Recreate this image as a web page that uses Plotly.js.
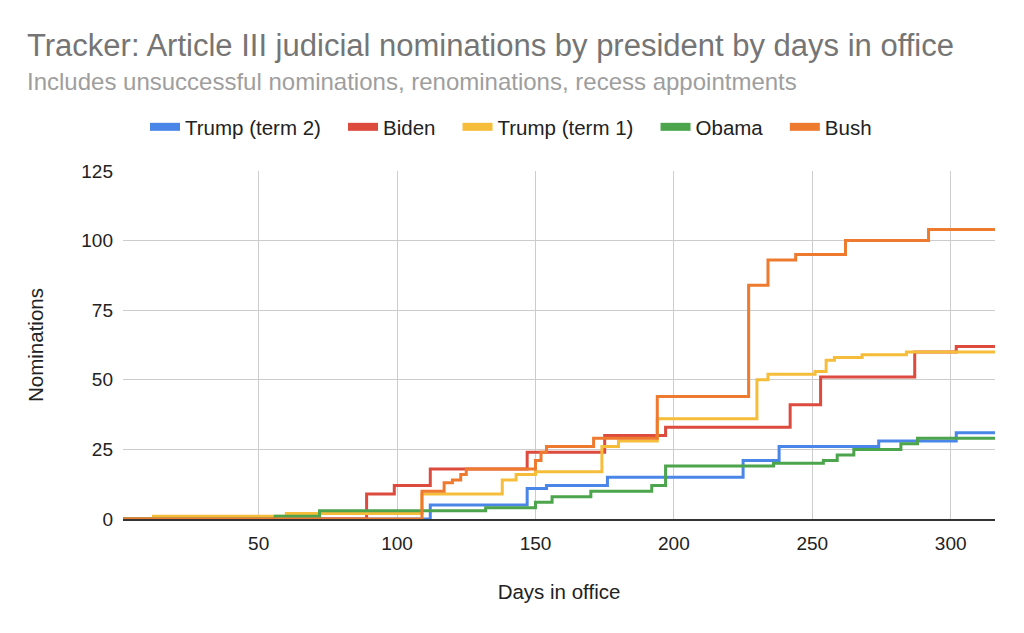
<!DOCTYPE html>
<html>
<head>
<meta charset="utf-8">
<script src="https://cdn.plot.ly/plotly-3.0.1.min.js"></script>
<style>
html,body{margin:0;padding:0;background:#fff;}
#chart{width:1024px;height:633px;}
</style>
</head>
<body>
<div id="chart"></div>
<script>
// Days in office at which each cumulative count changes
const seriesNames = ["Trump (term 2)", "Biden", "Trump (term 1)", "Obama", "Bush"];
const seriesColors = ["#4A86E8", "#DC4B3E", "#F5BD3A", "#4CA54C", "#EE7A2F"];

const trump2Days = [1, 112, 147, 154, 176, 225, 238, 274, 302, 316];
const trump2Vals = [0, 5, 11, 12, 15, 21, 26, 28, 31, 31];

const bidenDays = [1, 89, 99, 112, 147, 175, 197, 242, 253, 287, 302, 316];
const bidenVals = [0, 9, 12, 18, 24, 30, 33, 41, 51, 60, 62, 62];

const trump1Days = [1, 12, 60, 109, 138, 143, 150, 174, 180, 194, 230, 234, 251, 255, 258, 268, 284, 316];
const trump1Vals = [0, 1, 2, 9, 14, 16, 17, 26, 28, 36, 50, 52, 53, 57, 58, 59, 60, 60];

const obamaDays = [1, 56, 72, 132, 150, 156, 170, 192, 197, 236, 254, 259, 265, 282, 288, 316];
const obamaVals = [0, 1, 3, 4, 6, 8, 10, 12, 19, 20, 21, 23, 25, 27, 29, 29];

const bushDays = [1, 109, 117, 120, 123, 125, 150, 152, 154, 171, 194, 227, 234, 244, 262, 292, 316];
const bushVals = [0, 10, 13, 14, 16, 18, 21, 24, 26, 29, 44, 84, 93, 95, 100, 104, 104];

const xTicks = [50, 100, 150, 200, 250, 300];
const yTicks = [0, 25, 50, 75, 100, 125];

const allDays = [trump2Days, bidenDays, trump1Days, obamaDays, bushDays];
const allVals = [trump2Vals, bidenVals, trump1Vals, obamaVals, bushVals];

const FONT = "Arial, 'Liberation Sans', sans-serif";
const PAD = "\u00A0\u00A0\u00A0";

const traces = [];
seriesNames.forEach((name, i) => {
  traces.push({
    x: allDays[i], y: allVals[i], type: "scatter", mode: "lines",
    line: {shape: "hv", color: seriesColors[i], width: 3},
    showlegend: false, hoverinfo: "skip", name: name
  });
});
// legend entries (thick swatches)
seriesNames.forEach((name, i) => {
  traces.push({
    x: [null], y: [null], type: "scatter", mode: "lines",
    line: {color: seriesColors[i], width: 8},
    showlegend: true, name: i < seriesNames.length - 1 ? name + PAD : name,
    legendrank: i + 1
  });
});

const layout = {
  width: 1024, height: 633,
  margin: {l: 123, r: 29, t: 171, b: 114},
  paper_bgcolor: "#fff", plot_bgcolor: "#fff",
  font: {family: FONT, color: "#222"},
  title: {
    text: "Tracker: Article III judicial nominations by president by days in office",
    font: {family: FONT, size: 31, color: "#757575"},
    xref: "container", x: 27/1024, xanchor: "left",
    yref: "container", y: 1 - 45/633, yanchor: "middle"
  },
  annotations: [{
    text: "Includes unsuccessful nominations, renominations, recess appointments",
    xref: "paper", yref: "paper",
    x: (25 - 123) / 872, y: (519 - 82) / 347.5,
    xanchor: "left", yanchor: "middle", showarrow: false,
    font: {family: FONT, size: 24, color: "#9e9e9e"}
  }],
  legend: {
    orientation: "h", xref: "container", yref: "container",
    x: 511/1024, xanchor: "center", y: 1 - 127/633, yanchor: "middle",
    font: {family: FONT, size: 20.5, color: "#222"},
    traceorder: "normal", itemwidth: 30
  },
  xaxis: {
    range: [1, 316], tickvals: xTicks, ticktext: xTicks.map(String),
    showgrid: true, gridcolor: "#cccccc", gridwidth: 1,
    zeroline: false, showline: true, linecolor: "#333", linewidth: 1.5,
    ticks: "", tickfont: {family: FONT, size: 19, color: "#222"},
    ticklabelstandoff: 7,
    title: {text: "Days in office", font: {family: FONT, size: 20.5, color: "#222"}, standoff: 31}
  },
  yaxis: {
    range: [0, 125], tickvals: yTicks, ticktext: yTicks.map(String),
    showgrid: true, gridcolor: "#cccccc", gridwidth: 1,
    zeroline: false, showline: false,
    ticks: "", tickfont: {family: FONT, size: 19, color: "#222"},
    ticklabelstandoff: 9,
    title: {text: "Nominations", font: {family: FONT, size: 20.5, color: "#222"}, standoff: 32}
  }
};

Plotly.newPlot("chart", traces, layout, {displayModeBar: false, staticPlot: true});
</script>
</body>
</html>
